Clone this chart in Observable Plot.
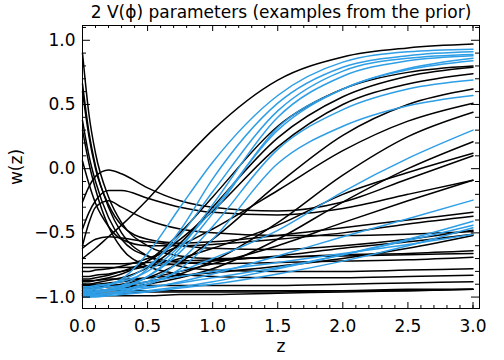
<!DOCTYPE html>
<html><head><meta charset="utf-8">
<script src="https://cdn.jsdelivr.net/npm/d3@7"></script>
<script src="https://cdn.jsdelivr.net/npm/@observablehq/plot@0.6"></script>
<style>body{margin:0;background:#fff;} svg{display:block;}</style>
</head><body><div id="chart"></div>
<script>
// redshift grid at which each curve is sampled
const zGrid = [0, 0.05, 0.1, 0.2, 0.3, 0.5, 0.75, 1, 1.5, 2, 2.5, 3];

// black curves w(z)
const black_k1 = [-0.70,-0.66,-0.62,-0.53,-0.44,-0.24,0.04,0.30,0.69,0.87,0.94,0.97];
const black_k2 = [-0.88,-0.88,-0.87,-0.85,-0.82,-0.72,-0.50,-0.22,0.33,0.62,0.75,0.80];
const black_k3 = [-0.90,-0.90,-0.89,-0.87,-0.85,-0.77,-0.58,-0.30,0.24,0.56,0.72,0.79];
const black_k4 = [-0.86,-0.86,-0.85,-0.83,-0.80,-0.72,-0.55,-0.33,0.17,0.50,0.66,0.74];
const black_k5 = [-0.92,-0.92,-0.92,-0.91,-0.90,-0.85,-0.73,-0.55,-0.12,0.26,0.50,0.62];
const black_k6 = [-0.80,-0.80,-0.79,-0.78,-0.76,-0.70,-0.60,-0.47,-0.17,0.14,0.37,0.51];
const black_k7 = [-0.93,-0.93,-0.93,-0.92,-0.91,-0.88,-0.82,-0.72,-0.42,-0.05,0.25,0.44];
const black_k8 = [-0.95,-0.95,-0.95,-0.94,-0.93,-0.90,-0.85,-0.78,-0.55,-0.26,0.00,0.21];
const black_k9 = [-0.84,-0.84,-0.83,-0.82,-0.80,-0.76,-0.70,-0.62,-0.44,-0.20,-0.03,0.12];
const black_k10 = [-0.90,-0.90,-0.90,-0.89,-0.88,-0.85,-0.80,-0.74,-0.60,-0.42,-0.25,-0.09];
const black_k11 = [-0.87,-0.87,-0.87,-0.86,-0.86,-0.85,-0.83,-0.81,-0.76,-0.70,-0.62,-0.52];
const black_k12 = [-0.74,-0.74,-0.74,-0.74,-0.74,-0.73,-0.72,-0.71,-0.69,-0.68,-0.67,-0.66];
const black_k13 = [-0.62,-0.58,-0.55,-0.53,-0.54,-0.57,-0.60,-0.62,-0.63,-0.60,-0.55,-0.48];
const black_d1 = [0.90,0.42,0.12,-0.22,-0.42,-0.60,-0.68,-0.70,-0.69,-0.67,-0.66,-0.64];
const black_d2 = [0.66,0.28,0.02,-0.30,-0.50,-0.68,-0.76,-0.79,-0.80,-0.80,-0.79,-0.78];
const black_d3 = [0.60,0.25,0.00,-0.28,-0.44,-0.55,-0.58,-0.57,-0.52,-0.46,-0.40,-0.34];
const black_d4 = [0.375,0.10,-0.10,-0.38,-0.55,-0.68,-0.73,-0.74,-0.73,-0.72,-0.71,-0.69];
const black_d5 = [0.30,0.04,-0.16,-0.45,-0.62,-0.76,-0.82,-0.84,-0.85,-0.85,-0.84,-0.83];
const black_d6 = [0.06,-0.12,-0.27,-0.45,-0.55,-0.60,-0.60,-0.59,-0.55,-0.50,-0.43,-0.37];
const black_p1 = [-0.26,-0.14,-0.06,-0.01,-0.04,-0.15,-0.25,-0.30,-0.33,-0.26,-0.08,0.10];
const black_p2 = [-0.47,-0.34,-0.25,-0.17,-0.17,-0.23,-0.30,-0.34,-0.36,-0.31,-0.20,-0.09];
const black_p3 = [-0.60,-0.42,-0.30,-0.25,-0.30,-0.40,-0.47,-0.50,-0.52,-0.52,-0.51,-0.49];
const black_f1 = [-0.95,-0.95,-0.95,-0.95,-0.95,-0.95,-0.95,-0.95,-0.95,-0.95,-0.94,-0.94];
const black_f2 = [-0.97,-0.97,-0.97,-0.97,-0.97,-0.96,-0.96,-0.96,-0.96,-0.95,-0.95,-0.94];
const black_f3 = [-0.91,-0.91,-0.91,-0.91,-0.91,-0.91,-0.91,-0.91,-0.91,-0.90,-0.89,-0.88];
const black_f4 = [-0.77,-0.77,-0.77,-0.77,-0.77,-0.76,-0.74,-0.72,-0.68,-0.62,-0.57,-0.51];
const black_f5 = [-0.99,-0.99,-0.99,-0.99,-0.99,-0.99,-0.98,-0.98,-0.97,-0.96,-0.95,-0.94];

// blue curves w(z)
const blue_b1 = [-0.95,-0.95,-0.94,-0.91,-0.86,-0.66,-0.30,0.05,0.57,0.83,0.91,0.93];
const blue_b2 = [-0.97,-0.97,-0.96,-0.94,-0.91,-0.78,-0.48,-0.08,0.51,0.79,0.88,0.91];
const blue_b3 = [-0.93,-0.93,-0.92,-0.90,-0.87,-0.76,-0.52,-0.18,0.45,0.76,0.86,0.89];
const blue_b4 = [-0.98,-0.98,-0.97,-0.95,-0.93,-0.84,-0.62,-0.28,0.40,0.72,0.84,0.88];
const blue_b5 = [-0.96,-0.96,-0.95,-0.94,-0.92,-0.84,-0.65,-0.35,0.32,0.62,0.78,0.86];
const blue_b6 = [-0.99,-0.99,-0.98,-0.97,-0.95,-0.88,-0.72,-0.45,0.15,0.46,0.62,0.69];
const blue_b7 = [-0.97,-0.97,-0.96,-0.95,-0.94,-0.90,-0.78,-0.55,0.04,0.33,0.49,0.57];
const blue_b8 = [-1.00,-1.00,-0.99,-0.98,-0.96,-0.90,-0.80,-0.70,-0.48,-0.18,0.08,0.30];
const blue_b9 = [-0.98,-0.98,-0.98,-0.97,-0.96,-0.93,-0.88,-0.82,-0.68,-0.53,-0.39,-0.245];
const blue_b10 = [-0.99,-0.99,-0.99,-0.98,-0.97,-0.95,-0.92,-0.88,-0.78,-0.67,-0.55,-0.41];
const blue_b11 = [-0.96,-0.96,-0.96,-0.95,-0.94,-0.92,-0.89,-0.85,-0.77,-0.67,-0.56,-0.44];
const blue_b12 = [-1.00,-1.00,-1.00,-0.99,-0.98,-0.96,-0.93,-0.90,-0.82,-0.72,-0.60,-0.46];
const blue_b13 = [-0.94,-0.94,-0.93,-0.92,-0.91,-0.88,-0.84,-0.80,-0.73,-0.66,-0.59,-0.51];
const blue_b14 = [-0.92,-0.92,-0.91,-0.90,-0.88,-0.80,-0.60,-0.32,0.30,0.62,0.77,0.84];

const blackSeries = [black_k1,black_k2,black_k3,black_k4,black_k5,black_k6,black_k7,black_k8,black_k9,black_k10,
  black_k11,black_k12,black_k13,
  black_d1,black_d2,black_d3,black_d4,black_d5,black_d6,black_p1,black_p2,black_p3,
  black_f1,black_f2,black_f3,black_f4,black_f5];
const blueSeries = [blue_b1,blue_b2,blue_b3,blue_b4,blue_b5,blue_b6,blue_b7,blue_b8,blue_b9,blue_b10,
  blue_b11,blue_b12,blue_b13,blue_b14];

// axis ticks
const xMajor = [0, 0.5, 1, 1.5, 2, 2.5, 3];
const xMinor = [0.1,0.2,0.3,0.4,0.6,0.7,0.8,0.9,1.1,1.2,1.3,1.4,1.6,1.7,1.8,1.9,2.1,2.2,2.3,2.4,2.6,2.7,2.8,2.9,3.0];
const yMajor = [-1, -0.5, 0, 0.5, 1];
const yMinor = [-0.9,-0.8,-0.7,-0.6,-0.4,-0.3,-0.2,-0.1,0.1,0.2,0.3,0.4,0.6,0.7,0.8,0.9,1.1];

const titleText = "2 V(\u03d5) parameters (examples from the prior)";
const xLabel = "z";
const yLabel = "w(z)";

function toRows(list, group) {
  const rows = [];
  list.forEach((vals, i) => vals.forEach((w, j) => rows.push({z: zGrid[j], w, id: group + i})));
  return rows;
}
const blackRows = toRows(blackSeries, "k");
const blueRows = toRows(blueSeries, "b");

const W = 504, H = 360;
const mT = 25, mB = 52, mL = 82, mR = 25;
const fh = H - mT - mB, fw = W - mL - mR;
const font = "DejaVu Sans";
const fs = 17;

const plot = Plot.plot({
  width: W, height: H,
  marginTop: mT, marginBottom: mB, marginLeft: mL, marginRight: mR,
  style: {fontFamily: font, fontSize: fs + "px", background: "#fff", color: "#000"},
  x: {domain: [0, 3.05], axis: null},
  y: {domain: [-1.089, 1.115], axis: null},
  marks: [
    Plot.line(blackRows, {x: "z", y: "w", z: "id", stroke: "#000", strokeWidth: 1.5, curve: "monotone-x"}),
    Plot.line(blueRows, {x: "z", y: "w", z: "id", stroke: "#2e9ee6", strokeWidth: 1.5, curve: "monotone-x"}),
    // inward ticks, all four sides
    Plot.tickX(xMajor, {x: d => d, insetTop: fh - 6, stroke: "#000"}),
    Plot.tickX(xMinor, {x: d => d, insetTop: fh - 3, stroke: "#000"}),
    Plot.tickX(xMajor, {x: d => d, insetBottom: fh - 6, stroke: "#000"}),
    Plot.tickX(xMinor, {x: d => d, insetBottom: fh - 3, stroke: "#000"}),
    Plot.tickY(yMajor, {y: d => d, insetRight: fw - 8, stroke: "#000"}),
    Plot.tickY(yMinor, {y: d => d, insetRight: fw - 4, stroke: "#000"}),
    Plot.tickY(yMajor, {y: d => d, insetLeft: fw - 8, stroke: "#000"}),
    Plot.tickY(yMinor, {y: d => d, insetLeft: fw - 4, stroke: "#000"}),
    Plot.frame({stroke: "#000", strokeWidth: 1}),
    Plot.axisX({ticks: xMajor, tickSize: 0, tickPadding: 11, tickFormat: d3.format(".1f"), label: null, fontSize: fs}),
    Plot.axisY({ticks: yMajor, tickSize: 0, tickPadding: 7, tickFormat: d3.format(".1f"), label: null, fontSize: fs}),
    Plot.text([titleText], {frameAnchor: "top", lineAnchor: "middle", textAnchor: "middle", dy: -13, fontSize: fs, fill: "#000"}),
    Plot.text([xLabel], {frameAnchor: "bottom", lineAnchor: "middle", textAnchor: "middle", dy: 38, fontSize: fs, fill: "#000"}),
    Plot.text([yLabel], {frameAnchor: "left", lineAnchor: "middle", textAnchor: "middle", dx: -66, rotate: -90, fontSize: fs, fill: "#000"})
  ]
});
document.getElementById("chart").appendChild(plot);
</script>
</body></html>
